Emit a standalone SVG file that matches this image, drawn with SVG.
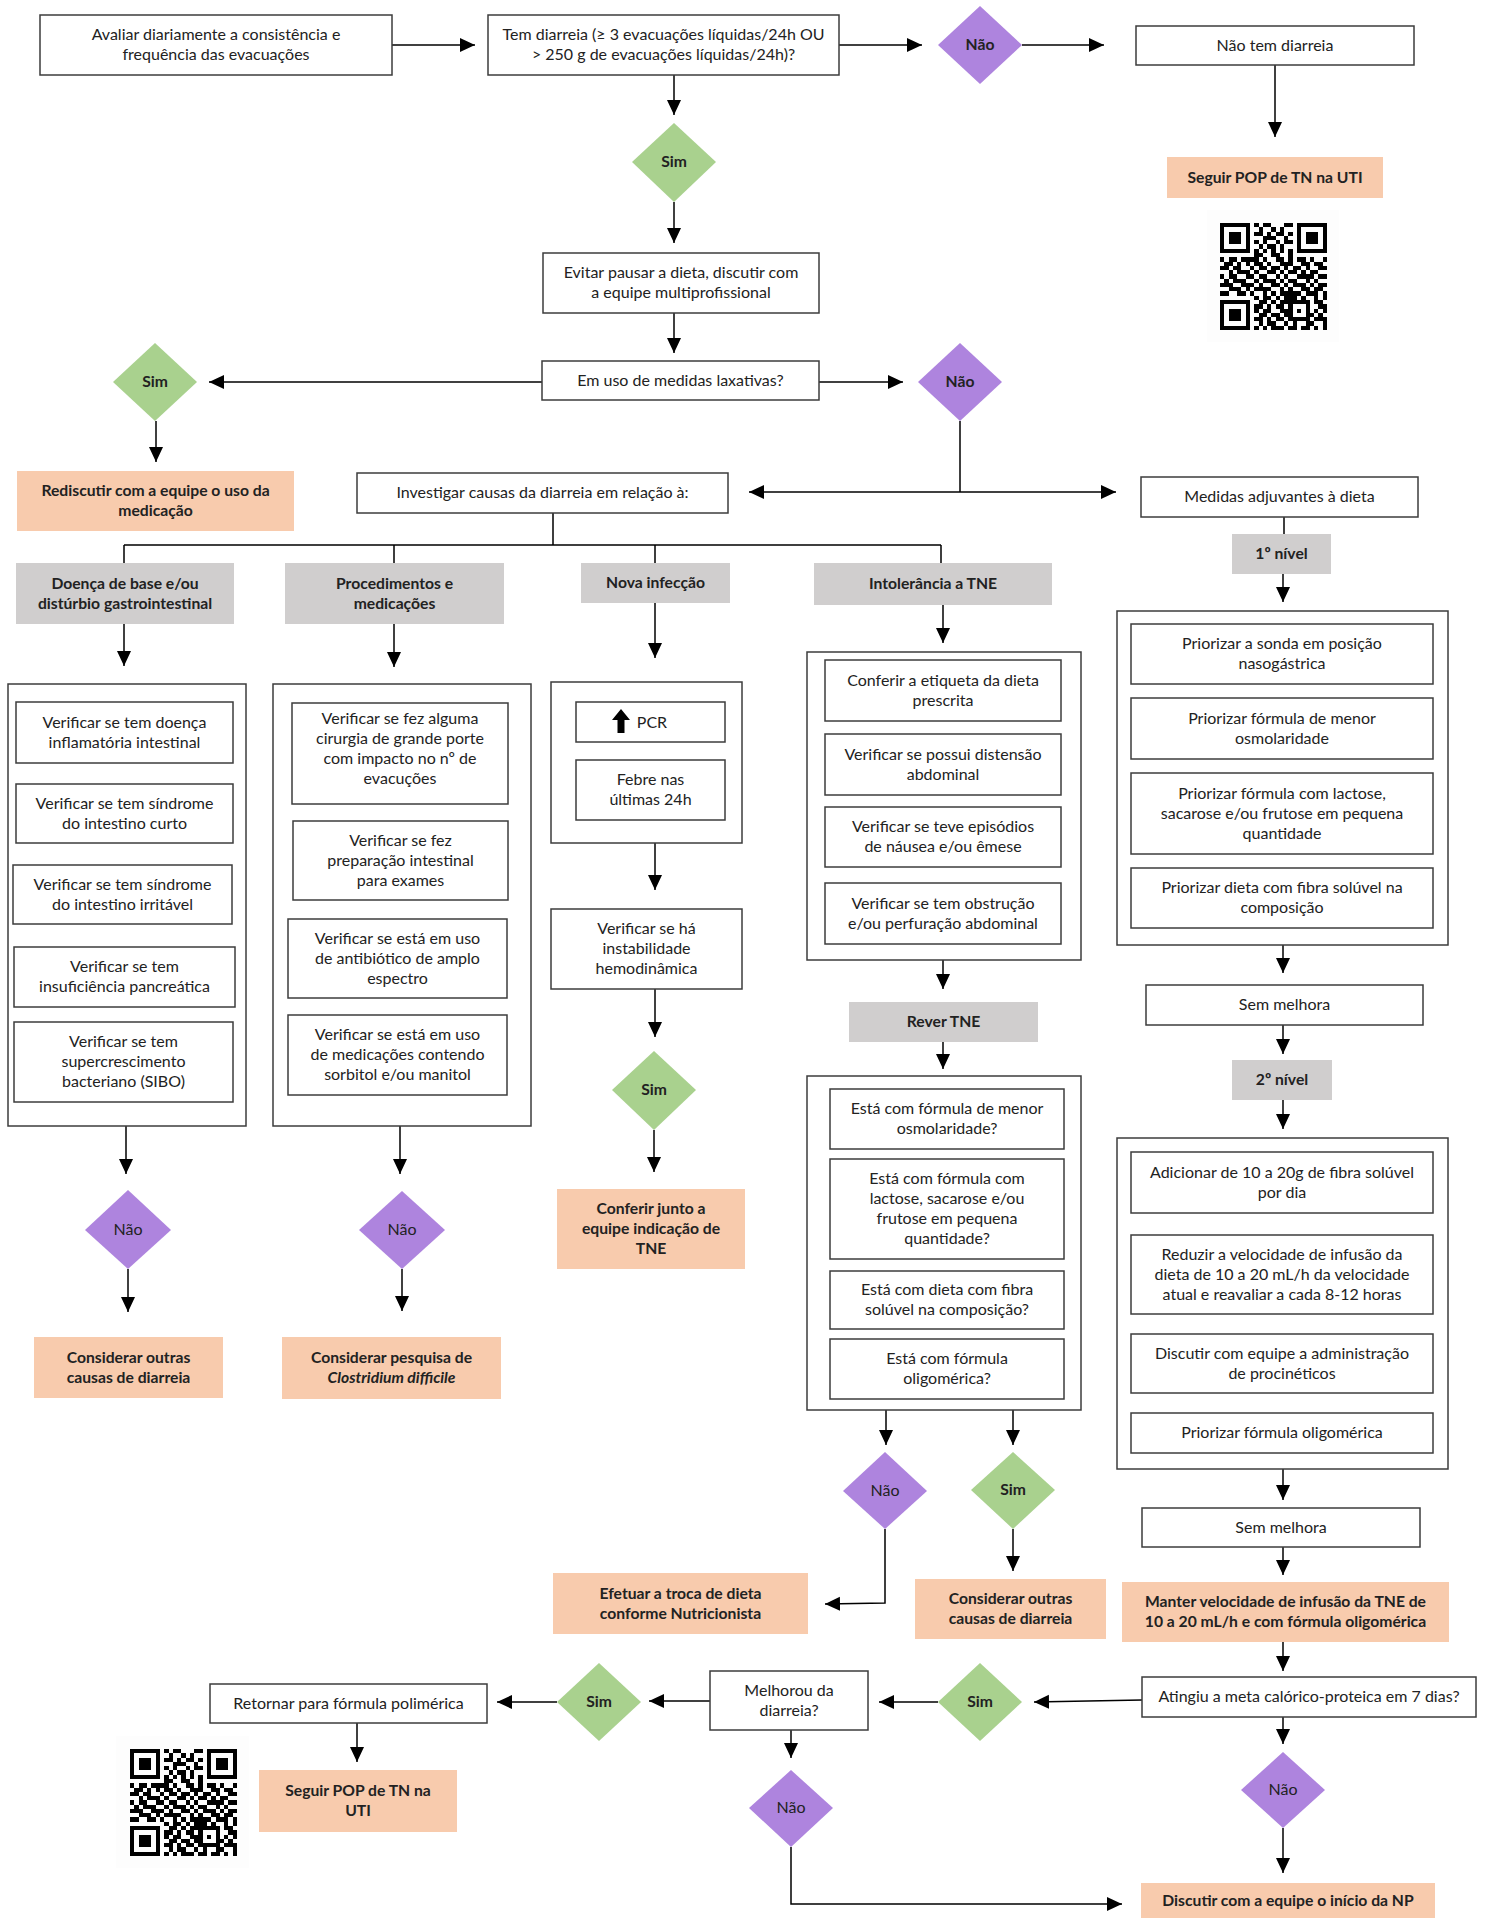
<svg xmlns="http://www.w3.org/2000/svg" xmlns:xlink="http://www.w3.org/1999/xlink" width="1489" height="1918" viewBox="0 0 1489 1918">
<style>
.box{fill:#fff;stroke:#3c3c3c;stroke-width:1.5}
.org{fill:#f8cbad}
.gry{fill:#d0cece}
.sim{fill:#a9d18e}
.nao{fill:#ae84de}
.t{font-family:Lato,"Liberation Sans",sans-serif;font-size:16px;fill:#222;text-anchor:middle}
.b{font-weight:bold;font-size:15.7px}
.c{stroke:#000;stroke-width:1.5;fill:none}
.qr{fill:#000}
</style>
<defs>
<marker id="ah" markerWidth="16" markerHeight="16" refX="15" refY="7" orient="auto-start-reverse" markerUnits="userSpaceOnUse"><path d="M0,0 L15,7 L0,14 Z" fill="#000"/></marker>
<g id="qrcode" shape-rendering="crispEdges">
<path class="qr" d="M0,0h7v1h-7zM8,0h1v1h-1zM10,0h2v1h-2zM15,0h2v1h-2zM18,0h7v1h-7z
M0,1h1v1h-1zM6,1h1v1h-1zM9,1h1v1h-1zM12,1h1v1h-1zM14,1h1v1h-1zM18,1h1v1h-1zM24,1h1v1h-1z
M0,2h1v1h-1zM2,2h3v1h-3zM6,2h1v1h-1zM8,2h2v1h-2zM11,2h1v1h-1zM13,2h2v1h-2zM16,2h1v1h-1zM18,2h1v1h-1zM20,2h3v1h-3zM24,2h1v1h-1z
M0,3h1v1h-1zM2,3h3v1h-3zM6,3h1v1h-1zM10,3h3v1h-3zM15,3h1v1h-1zM18,3h1v1h-1zM20,3h3v1h-3zM24,3h1v1h-1z
M0,4h1v1h-1zM2,4h3v1h-3zM6,4h1v1h-1zM8,4h1v1h-1zM10,4h1v1h-1zM13,4h1v1h-1zM15,4h2v1h-2zM18,4h1v1h-1zM20,4h3v1h-3zM24,4h1v1h-1z
M0,5h1v1h-1zM6,5h1v1h-1zM9,5h1v1h-1zM11,5h2v1h-2zM14,5h1v1h-1zM18,5h1v1h-1zM24,5h1v1h-1z
M0,6h7v1h-7zM8,6h1v1h-1zM10,6h1v1h-1zM12,6h1v1h-1zM14,6h1v1h-1zM16,6h1v1h-1zM18,6h7v1h-7z
M8,7h2v1h-2zM12,7h2v1h-2zM16,7h1v1h-1z
M0,8h1v1h-1zM2,8h2v1h-2zM5,8h4v1h-4zM10,8h1v1h-1zM13,8h2v1h-2zM16,8h1v1h-1zM18,8h2v1h-2zM21,8h1v1h-1zM24,8h1v1h-1z
M1,9h2v1h-2zM4,9h1v1h-1zM6,9h1v1h-1zM8,9h2v1h-2zM11,9h1v1h-1zM14,9h3v1h-3zM19,9h2v1h-2zM22,9h2v1h-2z
M0,10h2v1h-2zM3,10h2v1h-2zM7,10h1v1h-1zM9,10h2v1h-2zM12,10h2v1h-2zM15,10h1v1h-1zM17,10h2v1h-2zM20,10h1v1h-1zM23,10h2v1h-2z
M2,11h1v1h-1zM4,11h3v1h-3zM8,11h1v1h-1zM11,11h2v1h-2zM14,11h1v1h-1zM16,11h2v1h-2zM19,11h1v1h-1zM21,11h2v1h-2z
M0,12h1v1h-1zM2,12h2v1h-2zM6,12h2v1h-2zM9,12h2v1h-2zM13,12h1v1h-1zM15,12h1v1h-1zM18,12h4v1h-4zM23,12h2v1h-2z
M1,13h1v1h-1zM3,13h3v1h-3zM8,13h1v1h-1zM10,13h3v1h-3zM14,13h1v1h-1zM16,13h2v1h-2zM20,13h1v1h-1zM22,13h1v1h-1z
M0,14h3v1h-3zM5,14h3v1h-3zM9,14h1v1h-1zM12,14h2v1h-2zM15,14h1v1h-1zM17,14h3v1h-3zM21,14h1v1h-1zM23,14h2v1h-2z
M2,15h3v1h-3zM6,15h1v1h-1zM8,15h4v1h-4zM14,15h1v1h-1zM16,15h1v1h-1zM19,15h2v1h-2zM22,15h2v1h-2z
M0,16h2v1h-2zM4,16h2v1h-2zM7,16h1v1h-1zM10,16h1v1h-1zM12,16h1v1h-1zM14,16h5v1h-5zM20,16h3v1h-3zM24,16h1v1h-1z
M8,17h1v1h-1zM10,17h2v1h-2zM13,17h1v1h-1zM15,17h3v1h-3zM19,17h1v1h-1zM22,17h1v1h-1zM24,17h1v1h-1z
M0,18h7v1h-7zM9,18h2v1h-2zM12,18h1v1h-1zM14,18h7v1h-7zM22,18h2v1h-2z
M0,19h1v1h-1zM6,19h1v1h-1zM8,19h2v1h-2zM11,19h1v1h-1zM13,19h2v1h-2zM16,19h1v1h-1zM20,19h1v1h-1zM23,19h2v1h-2z
M0,20h1v1h-1zM2,20h3v1h-3zM6,20h1v1h-1zM8,20h1v1h-1zM10,20h2v1h-2zM14,20h3v1h-3zM18,20h1v1h-1zM20,20h1v1h-1zM22,20h1v1h-1zM24,20h1v1h-1z
M0,21h1v1h-1zM2,21h3v1h-3zM6,21h1v1h-1zM9,21h2v1h-2zM12,21h2v1h-2zM15,21h2v1h-2zM20,21h2v1h-2zM23,21h1v1h-1z
M0,22h1v1h-1zM2,22h3v1h-3zM6,22h1v1h-1zM8,22h2v1h-2zM11,22h1v1h-1zM13,22h2v1h-2zM16,22h5v1h-5zM22,22h3v1h-3z
M0,23h1v1h-1zM6,23h1v1h-1zM9,23h1v1h-1zM11,23h2v1h-2zM15,23h1v1h-1zM17,23h1v1h-1zM20,23h2v1h-2zM24,23h1v1h-1z
M0,24h7v1h-7zM8,24h1v1h-1zM10,24h1v1h-1zM12,24h3v1h-3zM16,24h2v1h-2zM19,24h2v1h-2zM22,24h1v1h-1zM24,24h1v1h-1z"/>
</g>
</defs>

<g id="connectors">
<path class="c" d="M392,45H475" marker-end="url(#ah)"/>
<path class="c" d="M839,45H922" marker-end="url(#ah)"/>
<path class="c" d="M1022,45H1104" marker-end="url(#ah)"/>
<path class="c" d="M1275,65V137" marker-end="url(#ah)"/>
<path class="c" d="M674,75V115" marker-end="url(#ah)"/>
<path class="c" d="M674,202V243" marker-end="url(#ah)"/>
<path class="c" d="M674,313V353" marker-end="url(#ah)"/>
<path class="c" d="M542,382H209" marker-end="url(#ah)"/>
<path class="c" d="M156,421V462" marker-end="url(#ah)"/>
<path class="c" d="M819,382H903" marker-end="url(#ah)"/>
<path class="c" d="M960,421V492"/>
<path class="c" d="M749,492H1116" marker-start="url(#ah)" marker-end="url(#ah)"/>
<path class="c" d="M553,513V545M124,545H941M124,545V563M394,545V563M655,545V563M941,545V563"/>
<path class="c" d="M124,624V666" marker-end="url(#ah)"/>
<path class="c" d="M394,624V667" marker-end="url(#ah)"/>
<path class="c" d="M655,603V658" marker-end="url(#ah)"/>
<path class="c" d="M943,605V643" marker-end="url(#ah)"/>
<path class="c" d="M655,843V890" marker-end="url(#ah)"/>
<path class="c" d="M655,989V1037" marker-end="url(#ah)"/>
<path class="c" d="M654,1130V1172" marker-end="url(#ah)"/>
<path class="c" d="M126,1126V1174" marker-end="url(#ah)"/>
<path class="c" d="M128,1269V1312" marker-end="url(#ah)"/>
<path class="c" d="M400,1126V1174" marker-end="url(#ah)"/>
<path class="c" d="M402,1269V1311" marker-end="url(#ah)"/>
<path class="c" d="M943,960V989" marker-end="url(#ah)"/>
<path class="c" d="M943,1042V1069" marker-end="url(#ah)"/>
<path class="c" d="M886,1410V1445" marker-end="url(#ah)"/>
<path class="c" d="M1013,1410V1445" marker-end="url(#ah)"/>
<path class="c" d="M885,1529V1603L825,1604" marker-end="url(#ah)"/>
<path class="c" d="M1013,1529V1571" marker-end="url(#ah)"/>
<path class="c" d="M1284,517V534"/>
<path class="c" d="M1283,574V602" marker-end="url(#ah)"/>
<path class="c" d="M1283,945V973" marker-end="url(#ah)"/>
<path class="c" d="M1283,1025V1054" marker-end="url(#ah)"/>
<path class="c" d="M1283,1100V1129" marker-end="url(#ah)"/>
<path class="c" d="M1283,1469V1500" marker-end="url(#ah)"/>
<path class="c" d="M1283,1547V1575" marker-end="url(#ah)"/>
<path class="c" d="M1283,1642V1671" marker-end="url(#ah)"/>
<path class="c" d="M1142,1700L1034,1702" marker-end="url(#ah)"/>
<path class="c" d="M938,1702H879" marker-end="url(#ah)"/>
<path class="c" d="M710,1701H649" marker-end="url(#ah)"/>
<path class="c" d="M557,1702H497" marker-end="url(#ah)"/>
<path class="c" d="M357,1723V1762" marker-end="url(#ah)"/>
<path class="c" d="M791,1730V1758" marker-end="url(#ah)"/>
<path class="c" d="M791,1847V1904H1122" marker-end="url(#ah)"/>
<path class="c" d="M1283,1717V1744" marker-end="url(#ah)"/>
<path class="c" d="M1283,1828V1873" marker-end="url(#ah)"/>
</g>

<g id="n-avaliar"><rect class="box" x="40" y="15" width="352" height="60"/><text class="t" x="216" y="40">Avaliar diariamente a consistência e<tspan x="216" dy="20">frequência das evacuações</tspan></text></g>
<g id="n-temdiarreia"><rect class="box" x="488" y="15" width="351" height="60"/><text class="t" x="663.5" y="40">Tem diarreia (≥ 3 evacuações líquidas/24h OU<tspan x="663.5" dy="20">&gt; 250 g de evacuações líquidas/24h)?</tspan></text></g>
<g id="n-nao1"><polygon class="nao" points="980,6 1022,45 980,84 938,45"/><text class="t b" x="980" y="50">Não</text></g>
<g id="n-naotem"><rect class="box" x="1136" y="26" width="278" height="39"/><text class="t" x="1275" y="50.5">Não tem diarreia</text></g>
<g id="n-seguir1"><rect class="org" x="1167" y="157" width="216" height="41"/><text class="t b" x="1275" y="182.5">Seguir POP de TN na UTI</text></g>
<g id="n-qr1"><rect x="1207" y="210" width="132" height="132" fill="#fdfdfd"/><use xlink:href="#qrcode" transform="translate(1220,223) scale(4.28)"/></g>
<g id="n-sim1"><polygon class="sim" points="674,123 716,162 674,202 632,162"/><text class="t b" x="674" y="167">Sim</text></g>
<g id="n-evitar"><rect class="box" x="543" y="253" width="276" height="60"/><text class="t" x="681" y="278">Evitar pausar a dieta, discutir com<tspan x="681" dy="20">a equipe multiprofissional</tspan></text></g>
<g id="n-laxativas"><rect class="box" x="542" y="361" width="277" height="39"/><text class="t" x="680.5" y="386">Em uso de medidas laxativas?</text></g>
<g id="n-sim2"><polygon class="sim" points="155,343 197,382 155,421 113,382"/><text class="t b" x="155" y="387">Sim</text></g>
<g id="n-nao2"><polygon class="nao" points="960,343 1002,382 960,421 918,382"/><text class="t b" x="960" y="387">Não</text></g>
<g id="n-rediscutir"><rect class="org" x="17" y="471" width="277" height="60"/><text class="t b" x="155.5" y="496">Rediscutir com a equipe o uso da<tspan x="155.5" dy="20">medicação</tspan></text></g>
<g id="n-investigar"><rect class="box" x="357" y="473" width="371" height="40"/><text class="t" x="542.5" y="498">Investigar causas da diarreia em relação à:</text></g>
<g id="n-medidas"><rect class="box" x="1141" y="477" width="277" height="40"/><text class="t" x="1279.5" y="502">Medidas adjuvantes à dieta</text></g>
<g id="n-nivel1"><rect class="gry" x="1232" y="534" width="99" height="40"/><text class="t b" x="1281.5" y="559">1º nível</text></g>

<g id="n-doenca"><rect class="gry" x="16" y="563" width="218" height="61"/><text class="t b" x="125" y="588.5">Doença de base e/ou<tspan x="125" dy="20">distúrbio gastrointestinal</tspan></text></g>
<g id="n-proc"><rect class="gry" x="285" y="563" width="219" height="61"/><text class="t b" x="394.5" y="588.5">Procedimentos e<tspan x="394.5" dy="20">medicações</tspan></text></g>
<g id="n-nova"><rect class="gry" x="581" y="563" width="149" height="40"/><text class="t b" x="655.5" y="588">Nova infecção</text></g>
<g id="n-intol"><rect class="gry" x="814" y="563" width="238" height="42"/><text class="t b" x="933" y="589">Intolerância a TNE</text></g>

<g id="n-doenca-list">
<rect class="box" x="8" y="684" width="238" height="442"/>
<rect class="box" x="16" y="702" width="217" height="61"/><text class="t" x="124.5" y="727.5">Verificar se tem doença<tspan x="124.5" dy="20">inflamatória intestinal</tspan></text>
<rect class="box" x="16" y="784" width="217" height="59"/><text class="t" x="124.5" y="808.5">Verificar se tem síndrome<tspan x="124.5" dy="20">do intestino curto</tspan></text>
<rect class="box" x="13" y="865" width="219" height="59"/><text class="t" x="122.5" y="889.5">Verificar se tem síndrome<tspan x="122.5" dy="20">do intestino irritável</tspan></text>
<rect class="box" x="14" y="947" width="221" height="60"/><text class="t" x="124.5" y="972">Verificar se tem<tspan x="124.5" dy="20">insuficiência pancreática</tspan></text>
<rect class="box" x="14" y="1022" width="219" height="80"/><text class="t" x="123.5" y="1047">Verificar se tem<tspan x="123.5" dy="20">supercrescimento</tspan><tspan x="123.5" dy="20">bacteriano (SIBO)</tspan></text>
</g>
<g id="n-proc-list">
<rect class="box" x="273" y="684" width="258" height="442"/>
<rect class="box" x="292" y="703" width="216" height="101"/><text class="t" x="400" y="723.5">Verificar se fez alguma<tspan x="400" dy="20">cirurgia de grande porte</tspan><tspan x="400" dy="20">com impacto no nº de</tspan><tspan x="400" dy="20">evacuções</tspan></text>
<rect class="box" x="293" y="821" width="215" height="79"/><text class="t" x="400.5" y="845.5">Verificar se fez<tspan x="400.5" dy="20">preparação intestinal</tspan><tspan x="400.5" dy="20">para exames</tspan></text>
<rect class="box" x="288" y="919" width="219" height="79"/><text class="t" x="397.5" y="943.5">Verificar se está em uso<tspan x="397.5" dy="20">de antibiótico de amplo</tspan><tspan x="397.5" dy="20">espectro</tspan></text>
<rect class="box" x="288" y="1015" width="219" height="80"/><text class="t" x="397.5" y="1040">Verificar se está em uso<tspan x="397.5" dy="20">de medicações contendo</tspan><tspan x="397.5" dy="20">sorbitol e/ou manitol</tspan></text>
</g>
<g id="n-nova-list">
<rect class="box" x="551" y="682" width="191" height="161"/>
<rect class="box" x="576" y="702" width="149" height="40"/>
<path d="M621,709L630,720H624.5V733H617.5V720H612Z" fill="#000"/>
<text class="t" x="652" y="727.5">PCR</text>
<rect class="box" x="576" y="760" width="149" height="60"/><text class="t" x="650.5" y="785">Febre nas<tspan x="650.5" dy="20">últimas 24h</tspan></text>
</g>
<g id="n-instab"><rect class="box" x="551" y="909" width="191" height="80"/><text class="t" x="646.5" y="934">Verificar se há<tspan x="646.5" dy="20">instabilidade</tspan><tspan x="646.5" dy="20">hemodinâmica</tspan></text></g>
<g id="n-sim3"><polygon class="sim" points="654,1051 696,1090 654,1130 612,1090"/><text class="t b" x="654" y="1095">Sim</text></g>
<g id="n-conferir"><rect class="org" x="557" y="1189" width="188" height="80"/><text class="t b" x="651" y="1214">Conferir junto a<tspan x="651" dy="20">equipe indicação de</tspan><tspan x="651" dy="20">TNE</tspan></text></g>
<g id="n-nao3"><polygon class="nao" points="128,1190 171,1230 128,1269 85,1230"/><text class="t" x="128" y="1235">Não</text></g>
<g id="n-considerar1"><rect class="org" x="34" y="1337" width="189" height="61"/><text class="t b" x="128.5" y="1362.5">Considerar outras<tspan x="128.5" dy="20">causas de diarreia</tspan></text></g>
<g id="n-nao4"><polygon class="nao" points="402,1191 445,1230 402,1269 359,1230"/><text class="t" x="402" y="1235">Não</text></g>
<g id="n-clostridium"><rect class="org" x="282" y="1337" width="219" height="62"/><text class="t b" x="391.5" y="1363">Considerar pesquisa de<tspan x="391.5" dy="20" font-style="italic">Clostridium difficile</tspan></text></g>

<g id="n-intol-list">
<rect class="box" x="807" y="652" width="274" height="308"/>
<rect class="box" x="825" y="660" width="236" height="61"/><text class="t" x="943" y="685.5">Conferir a etiqueta da dieta<tspan x="943" dy="20">prescrita</tspan></text>
<rect class="box" x="825" y="734" width="236" height="61"/><text class="t" x="943" y="759.5">Verificar se possui distensão<tspan x="943" dy="20">abdominal</tspan></text>
<rect class="box" x="825" y="807" width="236" height="60"/><text class="t" x="943" y="832">Verificar se teve episódios<tspan x="943" dy="20">de náusea e/ou êmese</tspan></text>
<rect class="box" x="825" y="883" width="236" height="61"/><text class="t" x="943" y="908.5">Verificar se tem obstrução<tspan x="943" dy="20">e/ou perfuração abdominal</tspan></text>
</g>
<g id="n-rever"><rect class="gry" x="849" y="1002" width="189" height="40"/><text class="t b" x="943.5" y="1027">Rever TNE</text></g>
<g id="n-rever-list">
<rect class="box" x="807" y="1076" width="274" height="334"/>
<rect class="box" x="830" y="1089" width="234" height="60"/><text class="t" x="947" y="1114">Está com fórmula de menor<tspan x="947" dy="20">osmolaridade?</tspan></text>
<rect class="box" x="830" y="1159" width="234" height="100"/><text class="t" x="947" y="1184">Está com fórmula com<tspan x="947" dy="20">lactose, sacarose e/ou</tspan><tspan x="947" dy="20">frutose em pequena</tspan><tspan x="947" dy="20">quantidade?</tspan></text>
<rect class="box" x="830" y="1271" width="234" height="58"/><text class="t" x="947" y="1295">Está com dieta com fibra<tspan x="947" dy="20">solúvel na composição?</tspan></text>
<rect class="box" x="830" y="1339" width="234" height="60"/><text class="t" x="947" y="1364">Está com fórmula<tspan x="947" dy="20">oligomérica?</tspan></text>
</g>
<g id="n-nao5"><polygon class="nao" points="885,1452 927,1491 885,1529 843,1491"/><text class="t" x="885" y="1496">Não</text></g>
<g id="n-sim4"><polygon class="sim" points="1013,1452 1055,1490 1013,1529 971,1490"/><text class="t b" x="1013" y="1495">Sim</text></g>
<g id="n-efetuar"><rect class="org" x="553" y="1573" width="255" height="61"/><text class="t b" x="680.5" y="1598.5">Efetuar a troca de dieta<tspan x="680.5" dy="20">conforme Nutricionista</tspan></text></g>
<g id="n-considerar2"><rect class="org" x="915" y="1579" width="191" height="60"/><text class="t b" x="1010.5" y="1604">Considerar outras<tspan x="1010.5" dy="20">causas de diarreia</tspan></text></g>

<g id="n-nivel1-list">
<rect class="box" x="1117" y="611" width="331" height="334"/>
<rect class="box" x="1131" y="624" width="302" height="60"/><text class="t" x="1282" y="649">Priorizar a sonda em posição<tspan x="1282" dy="20">nasogástrica</tspan></text>
<rect class="box" x="1131" y="698" width="302" height="61"/><text class="t" x="1282" y="723.5">Priorizar fórmula de menor<tspan x="1282" dy="20">osmolaridade</tspan></text>
<rect class="box" x="1131" y="773" width="302" height="81"/><text class="t" x="1282" y="798.5">Priorizar fórmula com lactose,<tspan x="1282" dy="20">sacarose e/ou frutose em pequena</tspan><tspan x="1282" dy="20">quantidade</tspan></text>
<rect class="box" x="1131" y="868" width="302" height="60"/><text class="t" x="1282" y="893">Priorizar dieta com fibra solúvel na<tspan x="1282" dy="20">composição</tspan></text>
</g>
<g id="n-semmelhora1"><rect class="box" x="1146" y="985" width="277" height="40"/><text class="t" x="1284.5" y="1010">Sem melhora</text></g>
<g id="n-nivel2"><rect class="gry" x="1232" y="1060" width="100" height="40"/><text class="t b" x="1282" y="1085">2º nível</text></g>
<g id="n-nivel2-list">
<rect class="box" x="1117" y="1138" width="331" height="331"/>
<rect class="box" x="1131" y="1152" width="302" height="61"/><text class="t" x="1282" y="1177.5">Adicionar de 10 a 20g de fibra solúvel<tspan x="1282" dy="20">por dia</tspan></text>
<rect class="box" x="1131" y="1235" width="302" height="79"/><text class="t" x="1282" y="1259.5">Reduzir a velocidade de infusão da<tspan x="1282" dy="20">dieta de 10 a 20 mL/h da velocidade</tspan><tspan x="1282" dy="20">atual e reavaliar a cada 8-12 horas</tspan></text>
<rect class="box" x="1131" y="1334" width="302" height="59"/><text class="t" x="1282" y="1358.5">Discutir com equipe a administração<tspan x="1282" dy="20">de procinéticos</tspan></text>
<rect class="box" x="1131" y="1413" width="302" height="40"/><text class="t" x="1282" y="1438">Priorizar fórmula oligomérica</text>
</g>
<g id="n-semmelhora2"><rect class="box" x="1142" y="1508" width="278" height="39"/><text class="t" x="1281" y="1532.5">Sem melhora</text></g>
<g id="n-manter"><rect class="org" x="1122" y="1582" width="327" height="60"/><text class="t b" x="1285.5" y="1607">Manter velocidade de infusão da TNE de<tspan x="1285.5" dy="20">10 a 20 mL/h e com fórmula oligomérica</tspan></text></g>
<g id="n-atingiu"><rect class="box" x="1142" y="1677" width="334" height="40"/><text class="t" x="1309" y="1702">Atingiu a meta calórico-proteica em 7 dias?</text></g>
<g id="n-sim5"><polygon class="sim" points="980,1663 1022,1702 980,1741 938,1702"/><text class="t b" x="980" y="1707">Sim</text></g>
<g id="n-melhorou"><rect class="box" x="710" y="1671" width="158" height="59"/><text class="t" x="789" y="1695.5">Melhorou da<tspan x="789" dy="20">diarreia?</tspan></text></g>
<g id="n-sim6"><polygon class="sim" points="599,1663 641,1702 599,1741 557,1702"/><text class="t b" x="599" y="1707">Sim</text></g>
<g id="n-retornar"><rect class="box" x="210" y="1684" width="277" height="39"/><text class="t" x="348.5" y="1708.5">Retornar para fórmula polimérica</text></g>
<g id="n-seguir2"><rect class="org" x="259" y="1770" width="198" height="62"/><text class="t b" x="358" y="1796">Seguir POP de TN na<tspan x="358" dy="20">UTI</tspan></text></g>
<g id="n-qr2"><rect x="116" y="1736" width="133" height="132" fill="#fdfdfd"/><use xlink:href="#qrcode" transform="translate(130,1749) scale(4.28)"/></g>
<g id="n-nao6"><polygon class="nao" points="791,1770 833,1808 791,1847 749,1808"/><text class="t" x="791" y="1813">Não</text></g>
<g id="n-nao7"><polygon class="nao" points="1283,1752 1325,1790 1283,1828 1241,1790"/><text class="t" x="1283" y="1795">Não</text></g>
<g id="n-discutir"><rect class="org" x="1141" y="1883" width="294" height="35"/><text class="t b" x="1288" y="1906">Discutir com a equipe o início da NP</text></g>
</svg>
